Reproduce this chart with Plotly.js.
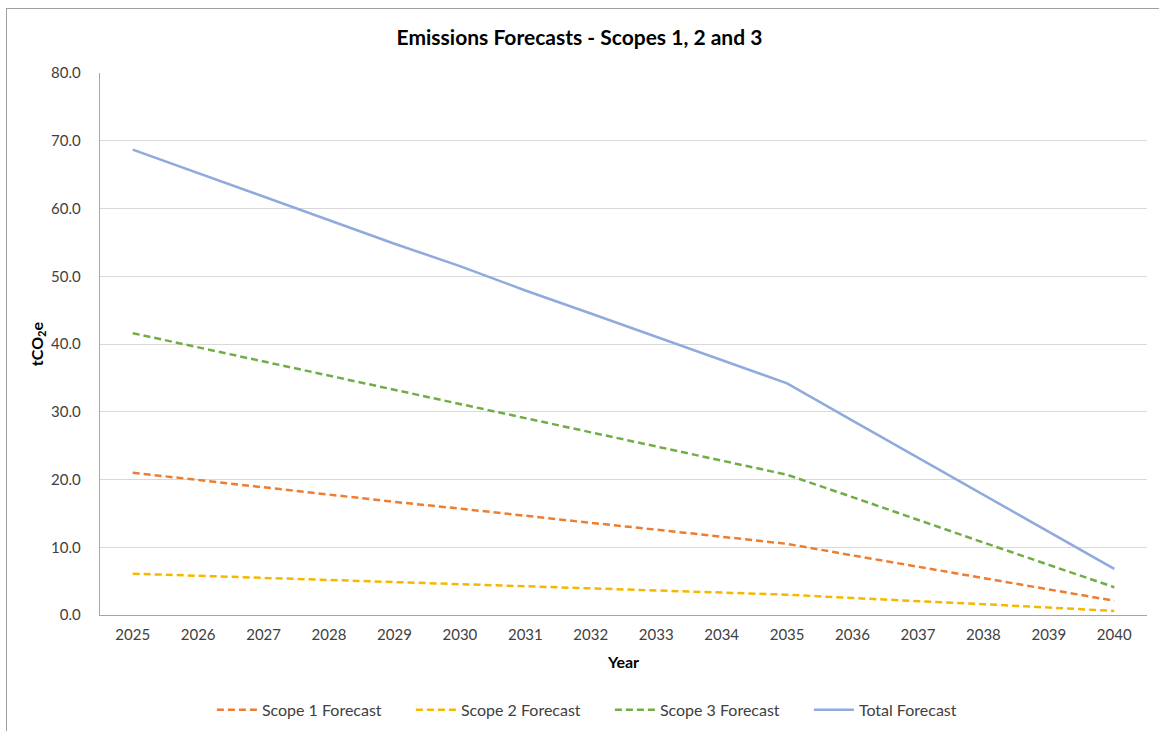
<!DOCTYPE html>
<html>
<head>
<meta charset="utf-8">
<script src="https://cdn.plot.ly/plotly-3.0.1.min.js"></script>
<style>
  html, body { margin: 0; padding: 0; background: #fff; overflow: hidden; }
  #chart { position: absolute; left: 0; top: 0; width: 1159px; height: 731px; }
  #frame { position: absolute; left: 6px; top: 8px; width: 1300px; height: 900px; border: 1px solid #A0A0A0; pointer-events: none; }
</style>
</head>
<body>
<div id="chart"></div>
<div id="frame"></div>
<script>
const years = ['2025','2026','2027','2028','2029','2030','2031','2032','2033','2034','2035','2036','2037','2038','2039','2040'];
const scope1 = [21.0, 19.9, 18.9, 17.8, 16.7, 15.7, 14.6, 13.6, 12.6, 11.5, 10.5, 8.8, 7.1, 5.4, 3.8, 2.1];
const scope2 = [6.1, 5.8, 5.5, 5.2, 4.9, 4.6, 4.2, 3.9, 3.6, 3.3, 3.0, 2.5, 2.1, 1.6, 1.1, 0.6];
const scope3 = [41.6, 39.5, 37.4, 35.3, 33.2, 31.2, 29.1, 27.0, 24.9, 22.8, 20.7, 17.4, 14.0, 10.7, 7.4, 4.1];
const total  = [68.7, 65.2, 61.8, 58.3, 54.8, 51.5, 47.9, 44.5, 41.1, 37.6, 34.2, 28.7, 23.2, 17.7, 12.3, 6.8];

const font = 'Lato, "Open Sans", "Liberation Sans", sans-serif';
const dash = '7px,4px';

const traces = [
  {x: years, y: scope1, name: 'Scope 1 Forecast', type: 'scatter', mode: 'lines',
   line: {color: '#ED7D31', width: 2.5, dash: dash}},
  {x: years, y: scope2, name: 'Scope 2 Forecast', type: 'scatter', mode: 'lines',
   line: {color: '#F5B800', width: 2.5, dash: dash}},
  {x: years, y: scope3, name: 'Scope 3 Forecast', type: 'scatter', mode: 'lines',
   line: {color: '#70AD47', width: 2.5, dash: dash}},
  {x: years, y: total, name: 'Total Forecast', type: 'scatter', mode: 'lines',
   line: {color: '#8FAADC', width: 2.5}}
];

const layout = {
  width: 1159, height: 731,
  margin: {l: 100, r: 12, t: 73, b: 116, autoexpand: false},
  paper_bgcolor: '#ffffff', plot_bgcolor: '#ffffff',
  font: {family: font, size: 15, color: '#404040'},
  title: {text: '<b>Emissions Forecasts - Scopes 1, 2 and 3</b>', x: 0.5, xanchor: 'center',
          y: 0.948, yanchor: 'middle', font: {family: font, size: 21, color: '#000000'}},
  xaxis: {
    type: 'category', range: [-0.5, 15.5], showgrid: false, zeroline: false,
    showline: true, linecolor: '#A6A6A6', linewidth: 1.3,
    ticks: 'outside', ticklen: 6, tickcolor: 'rgba(0,0,0,0)',
    tickfont: {family: font, size: 15, color: '#404040'},
    title: {text: '<b>Year</b>', standoff: 14, font: {family: font, size: 16, color: '#000000'}},
    fixedrange: true
  },
  yaxis: {
    range: [0, 80], dtick: 10, tickformat: '.1f',
    showgrid: true, gridcolor: '#D9D9D9', gridwidth: 1, zeroline: false,
    showline: true, linecolor: '#A6A6A6', linewidth: 1.3,
    ticks: 'outside', ticklen: 15, tickcolor: 'rgba(0,0,0,0)',
    tickfont: {family: font, size: 15, color: '#404040'},
    title: {text: '<b>tCO<sub>2</sub>e</b>', standoff: 3, font: {family: font, size: 16, color: '#000000'}},
    fixedrange: true
  },
  showlegend: true,
  legend: {orientation: 'h', x: 0.487, xanchor: 'center', y: -0.175, yanchor: 'middle',
           font: {family: font, size: 16, color: '#404040'}, itemwidth: 40,
           entrywidth: 144, entrywidthmode: 'pixels',
           bgcolor: 'rgba(0,0,0,0)'}
};

Plotly.newPlot('chart', traces, layout, {displayModeBar: false, staticPlot: true});
</script>
</body>
</html>
